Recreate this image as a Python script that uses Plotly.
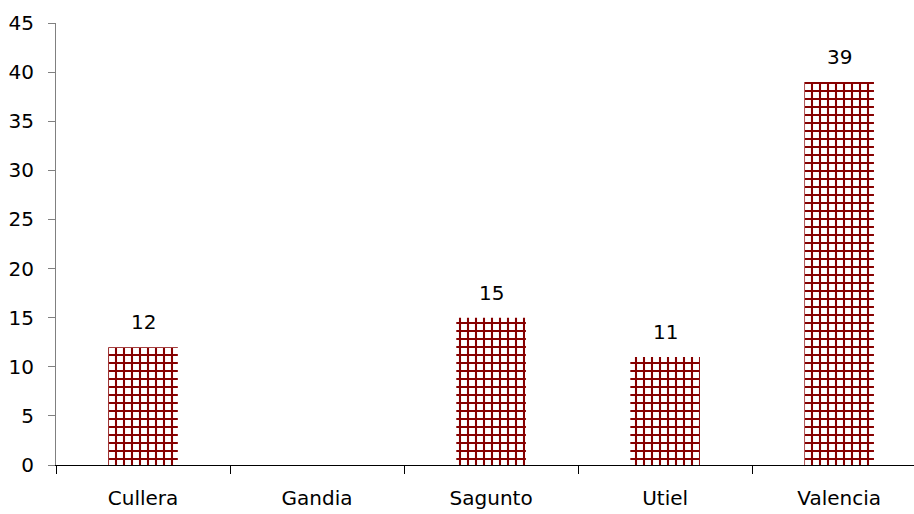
import plotly.graph_objects as go

categories = ["Cullera", "Gandia", "Sagunto", "Utiel", "Valencia"]
values = [12, None, 15, 11, 39]
labels = ["12", "", "15", "11", "39"]
y_ticks = [0, 5, 10, 15, 20, 25, 30, 35, 40, 45]

font = dict(family="DejaVu Sans", size=20, color="black")

fig = go.Figure(go.Bar(
    x=categories, y=values, width=0.4,
    marker=dict(color="white", line=dict(width=0),
                pattern=dict(shape="+", fgcolor="#860000", bgcolor="white",
                             size=8, solidity=0.45, fgopacity=1)),
))

for c, v, t in zip(categories, values, labels):
    if v is not None and t:
        fig.add_annotation(x=c, y=v, text=t, showarrow=False, yanchor="middle",
                           yshift=25, font=font)

fig.update_layout(
    width=914, height=514, plot_bgcolor="white", paper_bgcolor="white",
    margin=dict(l=56, r=0, t=23, b=49), font=font, showlegend=False,
)
fig.update_xaxes(type="category", range=[-0.5, 4.43], showline=True, linecolor="black",
                 linewidth=1, ticks="outside", tickson="boundaries", ticklen=8,
                 tickcolor="black", showgrid=False, tickfont=font, ticklabelstandoff=15,
                 automargin=False)
fig.update_yaxes(range=[0, 45], tickvals=y_ticks, showline=True, linecolor="#808080",
                 linewidth=1, ticks="outside", ticklen=7, tickcolor="#808080",
                 showgrid=False, zeroline=False, tickfont=font, ticklabelstandoff=10,
                 automargin=False)

fig.write_html("out.html", config={"displayModeBar": False},
               post_script="document.body.style.margin='0';document.body.style.overflow='hidden';")
